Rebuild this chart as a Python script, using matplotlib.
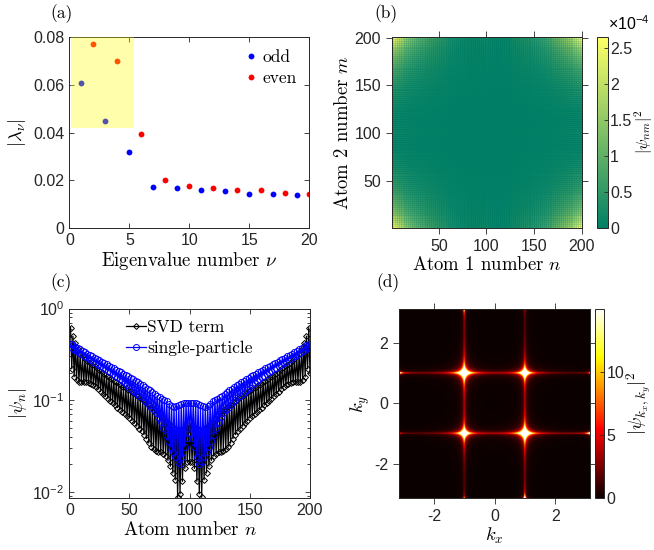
import numpy as np
import matplotlib
matplotlib.use('Agg')
import matplotlib.pyplot as plt
from matplotlib.patches import Rectangle
from matplotlib.ticker import LogLocator, NullFormatter

plt.rcParams['font.family'] = ['Liberation Sans', 'DejaVu Sans']
plt.rcParams['mathtext.fontset'] = 'custom'
plt.rcParams['mathtext.rm'] = 'Liberation Sans'
plt.rcParams['mathtext.it'] = 'Liberation Sans:italic'
plt.rcParams['mathtext.bf'] = 'Liberation Sans:bold'
plt.rcParams['axes.linewidth'] = 0.7
plt.rcParams['axes.edgecolor'] = '#262626'
plt.rcParams['xtick.color'] = '#262626'
plt.rcParams['ytick.color'] = '#262626'

SERIF = ['cmr10', 'DejaVu Serif']
TICK_FS = 11.5
LABEL_FS = 13.5

# ---------------- (a) eigenvalues ----------------
nu = np.arange(1, 21)
lam = [0.0609, 0.0772, 0.0450, 0.0699, 0.0317, 0.0394, 0.0172, 0.0200, 0.0165, 0.0177,
       0.0158, 0.0168, 0.0154, 0.0160, 0.0143, 0.0160, 0.0142, 0.0144, 0.0137, 0.0143]
highlight_nu = [0.15, 5.4]
highlight_lam = [0.0418, 0.08]

# ---------------- (c) wavefunctions, odd / even atoms ----------------
svd_odd = [0.62, 0.50, 0.42, 0.36, 0.32, 0.30, 0.28, 0.27, 0.255, 0.245,
           0.235, 0.225, 0.215, 0.205, 0.195, 0.185, 0.178, 0.17, 0.163, 0.156,
           0.15, 0.145, 0.14, 0.135, 0.13, 0.125, 0.12, 0.115, 0.11, 0.105,
           0.10, 0.096, 0.092, 0.088, 0.085, 0.081, 0.077, 0.072, 0.067, 0.062,
           0.058, 0.055, 0.052, 0.05, 0.048, 0.047, 0.048, 0.05, 0.052, 0.053,
           0.053, 0.052, 0.05, 0.048, 0.047, 0.048, 0.05, 0.052, 0.055, 0.058,
           0.062, 0.067, 0.072, 0.077, 0.081, 0.085, 0.088, 0.092, 0.096, 0.10,
           0.105, 0.11, 0.115, 0.12, 0.125, 0.13, 0.135, 0.14, 0.145, 0.15,
           0.156, 0.163, 0.17, 0.178, 0.185, 0.195, 0.205, 0.215, 0.225, 0.235,
           0.245, 0.255, 0.27, 0.28, 0.30, 0.32, 0.36, 0.42, 0.50, 0.62]
svd_even = [0.22, 0.18, 0.165, 0.158, 0.156, 0.157, 0.157, 0.155, 0.152, 0.147,
            0.14, 0.132, 0.124, 0.117, 0.11, 0.104, 0.098, 0.093, 0.088, 0.083,
            0.079, 0.075, 0.071, 0.067, 0.064, 0.06, 0.056, 0.052, 0.049, 0.046,
            0.042, 0.038, 0.034, 0.031, 0.029, 0.028, 0.027, 0.027, 0.026, 0.0245,
            0.022, 0.019, 0.016, 0.0135, 0.0087, 0.0095, 0.013, 0.018, 0.021, 0.021,
            0.021, 0.018, 0.013, 0.0095, 0.0087, 0.0135, 0.016, 0.019, 0.022, 0.0245,
            0.026, 0.027, 0.027, 0.028, 0.029, 0.031, 0.034, 0.038, 0.042, 0.046,
            0.049, 0.052, 0.056, 0.06, 0.064, 0.067, 0.071, 0.075, 0.079, 0.083,
            0.088, 0.093, 0.098, 0.104, 0.11, 0.117, 0.124, 0.132, 0.14, 0.147,
            0.152, 0.155, 0.157, 0.157, 0.156, 0.158, 0.165, 0.18, 0.22, 0.20]
sp_odd = [0.41, 0.396, 0.383, 0.37, 0.358, 0.346, 0.334, 0.323, 0.312, 0.302,
          0.292, 0.282, 0.273, 0.264, 0.255, 0.247, 0.238, 0.23, 0.223, 0.215,
          0.208, 0.201, 0.195, 0.188, 0.182, 0.176, 0.17, 0.164, 0.158, 0.152,
          0.146, 0.14, 0.134, 0.128, 0.122, 0.117, 0.112, 0.107, 0.104, 0.101,
          0.097, 0.092, 0.087, 0.085, 0.086, 0.088, 0.091, 0.093, 0.094, 0.094,
          0.094, 0.094, 0.093, 0.091, 0.088, 0.086, 0.085, 0.087, 0.092, 0.097,
          0.101, 0.104, 0.107, 0.112, 0.117, 0.122, 0.128, 0.134, 0.14, 0.146,
          0.152, 0.158, 0.164, 0.17, 0.176, 0.182, 0.188, 0.195, 0.201, 0.208,
          0.215, 0.223, 0.23, 0.238, 0.247, 0.255, 0.264, 0.273, 0.282, 0.292,
          0.302, 0.312, 0.323, 0.334, 0.346, 0.358, 0.37, 0.383, 0.396, 0.41]
sp_even = [0.37, 0.355, 0.342, 0.33, 0.318, 0.306, 0.295, 0.284, 0.274, 0.264,
           0.254, 0.245, 0.236, 0.227, 0.218, 0.21, 0.201, 0.193, 0.185, 0.177,
           0.169, 0.161, 0.153, 0.145, 0.137, 0.13, 0.123, 0.117, 0.112, 0.107,
           0.101, 0.095, 0.089, 0.083, 0.078, 0.072, 0.065, 0.058, 0.05, 0.042,
           0.036, 0.031, 0.027, 0.024, 0.021, 0.02, 0.024, 0.031, 0.039, 0.044,
           0.039, 0.031, 0.024, 0.02, 0.021, 0.024, 0.027, 0.031, 0.036, 0.042,
           0.05, 0.058, 0.065, 0.072, 0.078, 0.083, 0.089, 0.095, 0.101, 0.107,
           0.112, 0.117, 0.123, 0.13, 0.137, 0.145, 0.153, 0.161, 0.169, 0.177,
           0.185, 0.193, 0.201, 0.21, 0.218, 0.227, 0.236, 0.245, 0.254, 0.264,
           0.274, 0.284, 0.295, 0.306, 0.318, 0.33, 0.342, 0.355, 0.37, 0.385]

# ---------------- (b) two-atom density scale ----------------
pair_max = 2.65e-4
cb_b_ticks = [0, 0.5, 1, 1.5, 2, 2.5]

# ---------------- (d) momentum peaks: centre, horizontal arm, vertical arm, core ----------------
peak_kx = [-1.0, 1.0, 1.0, -1.0, -np.pi, np.pi, -1.0, 1.0, 1.0, -1.0, np.pi, -np.pi]
peak_ky = [1.0, -1.0, 1.0, -1.0, 1.0, -1.0, np.pi, -np.pi, np.pi, -np.pi, 1.0, -1.0]
arm_h = [60, 60, 45, 45, 40, 40, 0, 0, 0, 0, 10, 10]
arm_v = [60, 60, 45, 45, 0, 0, 40, 40, 10, 10, 0, 0]
core = [60, 60, 42, 42, 0, 0, 0, 0, 0, 0, 0, 0]

# assemble atom-resolved arrays
n_atoms = 200
atoms = np.arange(1, n_atoms + 1)
svd = np.empty(n_atoms)
svd[0::2] = svd_odd
svd[1::2] = svd_even
sp = np.empty(n_atoms)
sp[0::2] = sp_odd
sp[1::2] = sp_even

fig = plt.figure(figsize=(6.54, 5.5), dpi=100)


def style_ticks(ax, direction, length):
    ax.tick_params(which='both', direction=direction, top=True, right=True,
                   labelsize=TICK_FS, width=0.6)
    ax.tick_params(which='major', length=length)
    ax.tick_params(which='minor', length=length * 0.55)


# (a)
ax_a = fig.add_axes([0.106, 0.586, 0.367, 0.346])
nu_arr = np.array(nu)
lam_arr = np.array(lam)
ax_a.plot(nu_arr[0::2], lam_arr[0::2], 'o', color='#0000ff', ms=4.2, mec='none', label='odd')
ax_a.plot(nu_arr[1::2], lam_arr[1::2], 'o', color='#ff0000', ms=4.2, mec='none', label='even')
ax_a.add_patch(Rectangle((highlight_nu[0], highlight_lam[0]),
                         highlight_nu[1] - highlight_nu[0],
                         highlight_lam[1] - highlight_lam[0],
                         facecolor='#ffff00', alpha=0.33, edgecolor='none', zorder=3))
ax_a.set_xlim(0, 20)
ax_a.set_ylim(0, 0.08)
ax_a.set_xticks([0, 5, 10, 15, 20])
ax_a.set_yticks([0, 0.02, 0.04, 0.06, 0.08])
ax_a.set_yticklabels(['0', '0.02', '0.04', '0.06', '0.08'])
style_ticks(ax_a, 'in', 3.6)
ax_a.set_xlabel(r'Eigenvalue number $\nu$', fontfamily=SERIF, math_fontfamily='cm',
                fontsize=LABEL_FS, labelpad=2)
ax_a.set_ylabel(r'$|\lambda_\nu|$', math_fontfamily='cm', fontsize=LABEL_FS, labelpad=4)
ax_a.legend(loc='upper right', frameon=False, prop={'family': SERIF, 'size': 12.5},
            handletextpad=0.1, borderaxespad=0.3, labelspacing=0.35, handlelength=1.2)

# (b)
ax_b = fig.add_axes([0.599, 0.586, 0.291, 0.346])
pair = np.outer(sp, sp) ** 2
pair = pair / pair.max() * pair_max
im_b = ax_b.imshow(pair, origin='lower', cmap='summer', extent=[0.5, 200.5, 0.5, 200.5],
                   vmin=0, vmax=pair_max, interpolation='nearest', aspect='auto')
ax_b.set_xticks([50, 100, 150, 200])
ax_b.set_yticks([50, 100, 150, 200])
style_ticks(ax_b, 'out', 4.3)
ax_b.set_xlabel(r'Atom 1 number $n$', fontfamily=SERIF, math_fontfamily='cm',
                fontsize=LABEL_FS, labelpad=2)
ax_b.set_ylabel(r'Atom 2 number $m$', fontfamily=SERIF, math_fontfamily='cm',
                fontsize=LABEL_FS, labelpad=2)
cax_b = fig.add_axes([0.913, 0.586, 0.0168, 0.346])
cb_b = fig.colorbar(im_b, cax=cax_b)
cb_b.set_ticks([t * 1e-4 for t in cb_b_ticks])
cb_b.set_ticklabels([f'{t:g}' for t in cb_b_ticks])
cb_b.ax.tick_params(labelsize=TICK_FS, direction='in', length=3, width=0.6, pad=1.5)
cb_b.outline.set_linewidth(0.7)
cax_b.text(0.95, 1.025, r'$\times10^{-4}$', transform=cax_b.transAxes, ha='left',
           va='bottom', fontsize=TICK_FS)
fig.text(644 / 654, 1 - 132 / 550, r'$|\psi_{nm}|^2$', math_fontfamily='cm', fontsize=11.5,
         rotation=90, ha='center', va='center')

# (c)
ax_c = fig.add_axes([0.106, 0.094, 0.368, 0.345])
ax_c.semilogy(atoms, svd, '-D', color='k', mfc='none', ms=3.0, mew=0.7, lw=0.9,
              label='SVD term')
ax_c.semilogy(atoms, sp, '-o', color='#0000ff', mfc='none', ms=4.3, mew=0.7, lw=0.9,
              label='single-particle')
ax_c.set_xlim(0, 200)
ax_c.set_ylim(0.0085, 1.0)
ax_c.set_xticks([0, 50, 100, 150, 200])
ax_c.yaxis.set_major_locator(LogLocator(base=10, numticks=5))
ax_c.yaxis.set_minor_locator(LogLocator(base=10, subs=np.arange(2, 10), numticks=12))
ax_c.yaxis.set_minor_formatter(NullFormatter())
style_ticks(ax_c, 'in', 3.6)
ax_c.set_xlabel(r'Atom number $n$', fontfamily=SERIF, math_fontfamily='cm',
                fontsize=LABEL_FS, labelpad=2)
ax_c.set_ylabel(r'$|\psi_n|$', math_fontfamily='cm', fontsize=LABEL_FS, labelpad=2)
ax_c.legend(loc='upper center', frameon=False, prop={'family': SERIF, 'size': 12.5},
            handletextpad=0.1, borderaxespad=0.25, labelspacing=0.3, handlelength=1.1,
            bbox_to_anchor=(0.5, 1.0))

# (d)
ax_d = fig.add_axes([0.6106, 0.094, 0.2916, 0.345])
kgrid = np.linspace(-np.pi, np.pi, 381)
KX, KY = np.meshgrid(kgrid, kgrid)
mom = np.zeros_like(KX)
arm_len = 0.025
arm_thin = 0.018
core_w = 0.06
for x0, y0, ah, av, c0 in zip(peak_kx, peak_ky, arm_h, arm_v, core):
    dx = KX - x0
    dy = KY - y0
    mom += ah / np.sqrt(1 + (dx / arm_len) ** 2) / (1 + (dy / arm_thin) ** 2)
    mom += av / np.sqrt(1 + (dy / arm_len) ** 2) / (1 + (dx / arm_thin) ** 2)
    mom += c0 / ((1 + (dx / core_w) ** 2) * (1 + (dy / core_w) ** 2)) ** 0.75
im_d = ax_d.imshow(mom, origin='lower', cmap='hot', extent=[-np.pi, np.pi, -np.pi, np.pi],
                   vmin=0, vmax=15, aspect='auto')
ax_d.set_xticks([-2, 0, 2])
ax_d.set_yticks([-2, 0, 2])
ax_d.set_xticklabels(['-2', '0', '2'])
ax_d.set_yticklabels(['-2', '0', '2'])
style_ticks(ax_d, 'out', 4.3)
ax_d.set_xlabel(r'$k_x$', math_fontfamily='cm', fontsize=LABEL_FS, labelpad=1)
ax_d.set_ylabel(r'$k_y$', math_fontfamily='cm', fontsize=LABEL_FS, labelpad=2)
cax_d = fig.add_axes([0.9098, 0.094, 0.0138, 0.345])
cb_d = fig.colorbar(im_d, cax=cax_d, ticks=[0, 5, 10])
cb_d.ax.tick_params(labelsize=TICK_FS, direction='in', length=3, width=0.6, pad=2)
cb_d.outline.set_linewidth(0.7)
cb_d.set_label(r'$|\psi_{k_x,k_y}|^2$', math_fontfamily='cm', fontsize=LABEL_FS, labelpad=0)

# panel labels
for x, y, s in [(62, 14, '(a)'), (386, 14, '(b)'), (61, 283, '(c)'), (388, 283, '(d)')]:
    fig.text(x / 654, 1 - y / 550, s, ha='center', va='center', fontfamily=SERIF,
             fontsize=12.5)

fig.savefig('out.png', dpi=100)
